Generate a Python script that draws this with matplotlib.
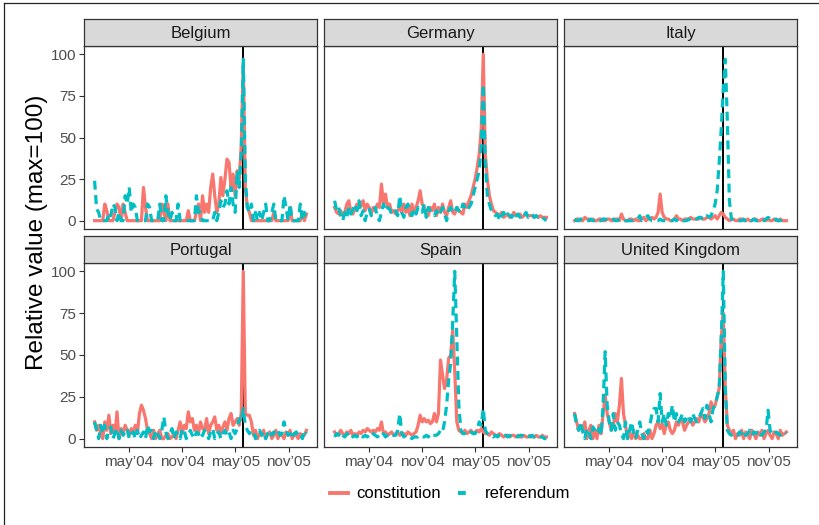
import numpy as np
import pandas as pd
import matplotlib
matplotlib.use("Agg")
import matplotlib.pyplot as plt
from matplotlib.lines import Line2D

plt.rcParams['font.family'] = ['Liberation Sans', 'DejaVu Sans']

weeks = pd.date_range('2004-01-04', '2006-01-01', freq='W-SUN')
countries = ["Belgium", "Germany", "Italy", "Portugal", "Spain", "United Kingdom"]
tick_dates = pd.to_datetime(["2004-05-01", "2004-11-01", "2005-05-01", "2005-11-01"])
tick_labels = ["may’04", "nov’04", "may’05", "nov’05"]
y_ticks = [0, 25, 50, 75, 100]
event_date = pd.Timestamp("2005-05-29")

be_con = [0,0,0,0,0,10,6,0,0,0, 5,10,8,0,10,5,0,0,0,0, 0,0,0,0,20,8,0,0,0,0,
          0,0,0,10,5,0,10,0,0,0, 0,0,0,0,0,0,6,0,0,0, 5,10,0,15,5,10,5,20,28,15,
          5,10,26,15,25,37,35,20,28,15, 30,25,45,95,20,8,5,0,0,0, 0,0,0,0,0,0,0,0,5,0,
          0,0,0,0,0,0,8,0,0,0, 0,0,5,0,4]
be_ref = [24,7,5,0,0,0,0,5,3,10, 8,0,5,0,0,15,10,20,5,10, 8,0,0,0,0,0,10,8,0,0,
          0,0,10,0,0,15,5,0,5,0, 0,10,0,0,0,0,0,0,0,0, 15,5,5,0,0,0,0,0,0,5,
          0,5,12,8,10,18,10,20,10,5, 30,20,40,97,25,8,5,10,0,5, 0,5,0,5,10,0,0,5,10,0,
          0,0,0,15,8,0,10,0,0,0, 0,10,0,5,0]
de_con = [8,5,4,6,3,5,10,12,5,4, 7,10,8,9,12,6,10,8,4,8, 6,10,8,22,10,16,8,10,5,6,
          4,6,8,5,10,5,8,3,10,5, 8,12,18,10,8,5,3,8,6,10, 3,8,5,10,5,3,8,12,5,4,
          8,6,5,4,10,8,12,15,20,25, 32,40,55,100,40,25,15,10,6,5, 4,3,5,2,3,4,2,3,5,3,
          3,4,2,3,4,3,3,3,2,3, 2,3,2,2,2]
de_ref = [12,6,8,3,0,5,2,8,4,7, 10,6,12,3,6,0,5,7,3,5, 8,2,0,5,10,6,8,7,4,4,
          6,3,15,5,2,8,10,5,3,7, 4,8,6,5,10,2,8,6,4,3, 6,3,5,8,4,0,6,8,5,5,
          8,6,5,10,8,6,8,10,15,20, 25,30,45,82,35,15,10,6,5,3, 4,0,3,5,2,4,3,2,5,3,
          4,2,4,3,5,2,3,4,2,3, 2,3,2,1,0]
it_con = [0,1,1,0,0,2,1,1,0,1, 0,0,1,1,0,0,1,1,0,0, 1,1,0,4,1,0,0,1,1,0,
          1,0,0,1,2,0,1,1,2,1, 2,5,16,5,2,1,1,0,0,1, 3,1,1,0,1,1,1,2,1,1,
          1,1,2,1,1,2,2,1,2,3, 1,3,5,4,2,1,0,1,1,0, 0,1,1,0,0,1,0,0,1,1,
          0,0,1,1,0,1,0,0,1,0, 0,1,0,0,0]
it_ref = [1,0,0,1,1,0,0,0,1,0, 0,1,0,0,1,1,0,0,0,1, 0,0,1,1,0,0,0,0,0,0,
          0,1,3,0,1,2,3,1,0,0, 0,0,1,0,0,0,0,0,0,1, 0,1,0,0,0,0,1,0,1,1,
          1,2,2,1,1,3,2,3,6,10, 18,35,55,80,97,60,12,1,0,0, 0,0,0,1,0,1,0,0,1,0,
          0,0,1,0,1,2,1,0,0,1, 0,0,1,0,0]
pt_con = [10,5,8,3,0,10,5,14,3,8, 3,16,0,6,3,8,5,2,6,4, 8,3,15,20,17,12,5,3,0,5,
          0,3,5,0,0,2,3,0,1,3, 0,5,10,3,8,6,16,10,12,5, 8,3,10,6,5,12,3,8,10,13,
          5,8,3,7,10,5,12,15,8,10, 12,8,15,100,15,14,14,10,2,5, 0,3,2,5,0,3,4,0,2,5,
          0,3,2,0,4,2,5,0,3,2, 0,3,1,2,5]
pt_ref = [10,5,0,8,3,8,0,5,7,0, 3,6,0,5,2,4,6,0,3,4, 0,5,0,2,4,0,8,4,5,0,
          5,3,0,5,13,4,0,3,6,0, 4,3,0,6,5,0,3,5,2,0, 4,3,0,2,5,3,0,4,6,0,
          3,4,0,3,5,2,4,0,5,3, 6,12,10,18,8,5,3,5,4,0, 3,5,2,4,0,3,5,2,4,3,
          5,2,3,10,5,2,3,0,3,4, 2,3,0,5,3]
es_con = [4,2,3,5,3,2,4,3,5,2, 3,2,4,3,5,4,6,5,4,5, 4,6,5,10,3,4,2,3,4,2,
          3,4,2,3,3,2,4,3,2,3, 4,8,14,10,12,10,11,9,10,15, 10,15,47,38,30,35,48,50,65,40,
          10,5,4,3,5,3,4,5,3,4, 5,4,6,4,3,3,2,4,3,2, 2,3,2,1,2,2,1,2,2,1,
          2,1,1,2,1,1,2,1,1,2, 1,1,2,1,1]
es_ref = [1,3,2,4,2,1,3,2,3,1, 2,1,3,2,1,2,1,2,1,3, 2,1,2,1,3,1,2,3,2,2,
          2,5,15,3,1,2,1,1,0,1, 1,1,2,1,1,2,1,3,2,2, 2,3,5,4,10,20,35,45,70,100,
          60,20,5,3,3,2,3,4,3,3, 5,10,8,18,5,3,2,2,1,2, 1,2,2,1,2,1,2,1,1,2,
          1,2,2,1,1,2,1,2,1,1, 2,1,1,0,0]
uk_con = [15,10,5,8,5,10,0,5,8,0, 5,0,8,3,15,26,15,10,5,8, 15,10,20,36,15,8,0,3,0,5,
          0,2,0,0,3,0,0,5,0,3, 8,10,6,9,3,8,10,5,3,5, 10,8,12,10,5,8,10,12,8,10,
          12,10,15,13,10,12,15,22,18,20, 25,30,60,75,30,8,5,3,5,0, 3,2,5,0,4,2,0,5,3,0,
          4,2,5,0,3,5,2,0,4,3, 0,5,2,3,4]
uk_ref = [15,8,5,10,4,0,6,5,0,7, 5,3,6,2,20,52,20,10,5,15, 5,10,8,3,0,10,0,5,10,3,
          0,5,10,3,0,5,3,8,15,18, 18,10,27,10,15,8,15,12,20,10, 15,10,12,15,10,12,14,10,15,12,
          10,12,15,18,12,20,15,10,18,20, 25,30,60,100,30,5,3,2,3,2, 2,4,3,5,2,3,5,2,4,3,
          5,3,2,4,5,17,5,3,2,4, 3,2,3,4,3]

constitution = [be_con, de_con, it_con, pt_con, es_con, uk_con]
referendum = [be_ref, de_ref, it_ref, pt_ref, es_ref, uk_ref]

red = '#F8766D'
cyan = '#00BFC4'
W, H = 819, 525
lefts = [84, 324, 564]
tops = [46, 263]
heights = [183, 184]
pw = 233
strip_h = 27
pad = pd.Timedelta(days=36.4)

fig = plt.figure(figsize=(W / 100, H / 100), dpi=100)

for i, name in enumerate(countries):
    r, c = divmod(i, 3)
    left, top, h = lefts[c], tops[r], heights[r]
    ax = fig.add_axes([left / W, 1 - (top + h) / H, pw / W, h / H])
    ax.axvline(event_date, color='black', lw=1.4, zorder=1)
    ax.plot(weeks, constitution[i], color=red, lw=2.3, zorder=2)
    ax.plot(weeks, referendum[i], color=cyan, lw=2.3, dashes=(2.8, 1.7), zorder=3)
    ax.set_xlim(weeks[0] - pad, weeks[-1] + pad)
    ax.set_ylim(-5, 105)
    for s in ax.spines.values():
        s.set_color('#333333')
        s.set_linewidth(0.9)
    ax.set_xticks(tick_dates)
    ax.set_yticks(y_ticks)
    ax.tick_params(length=3.5, width=0.8, color='#333333', labelcolor='#4D4D4D',
                   labelsize=11, pad=2)
    if r == 1:
        ax.set_xticklabels(tick_labels)
    else:
        ax.tick_params(bottom=False, labelbottom=False)
    if c == 0:
        ax.set_yticklabels([str(v) for v in y_ticks])
    else:
        ax.tick_params(left=False, labelleft=False)

    sax = fig.add_axes([left / W, 1 - top / H, pw / W, strip_h / H])
    sax.set_facecolor('#D9D9D9')
    sax.set_xticks([])
    sax.set_yticks([])
    for s in sax.spines.values():
        s.set_color('#333333')
        s.set_linewidth(0.9)
    sax.text(0.5, 0.48, name, ha='center', va='center', fontsize=12, color='#1A1A1A',
             transform=sax.transAxes)

fig.text(37 / W, 1 - 232 / H, "Relative value (max=100)", rotation=90,
         ha='center', va='center', fontsize=17.5, color='black')

handles = [Line2D([], [], color=red, lw=2.8),
           Line2D([], [], color=cyan, lw=2.8, dashes=(2.0, 10))]
fig.legend(handles, ["constitution", "referendum"], loc='center',
           bbox_to_anchor=(450 / W, 1 - 494 / H), ncol=2, frameon=False,
           fontsize=12, handlelength=1.1, handletextpad=0.5, columnspacing=1.0)

# thin frame along the top and left edge of the screenshot
fig.add_artist(Line2D([4 / W, 1], [1 - 3 / H, 1 - 3 / H], color='#222222', lw=0.9))
fig.add_artist(Line2D([4 / W, 4 / W], [0, 1 - 3 / H], color='#222222', lw=0.9))

fig.savefig('out.png', dpi=100)
